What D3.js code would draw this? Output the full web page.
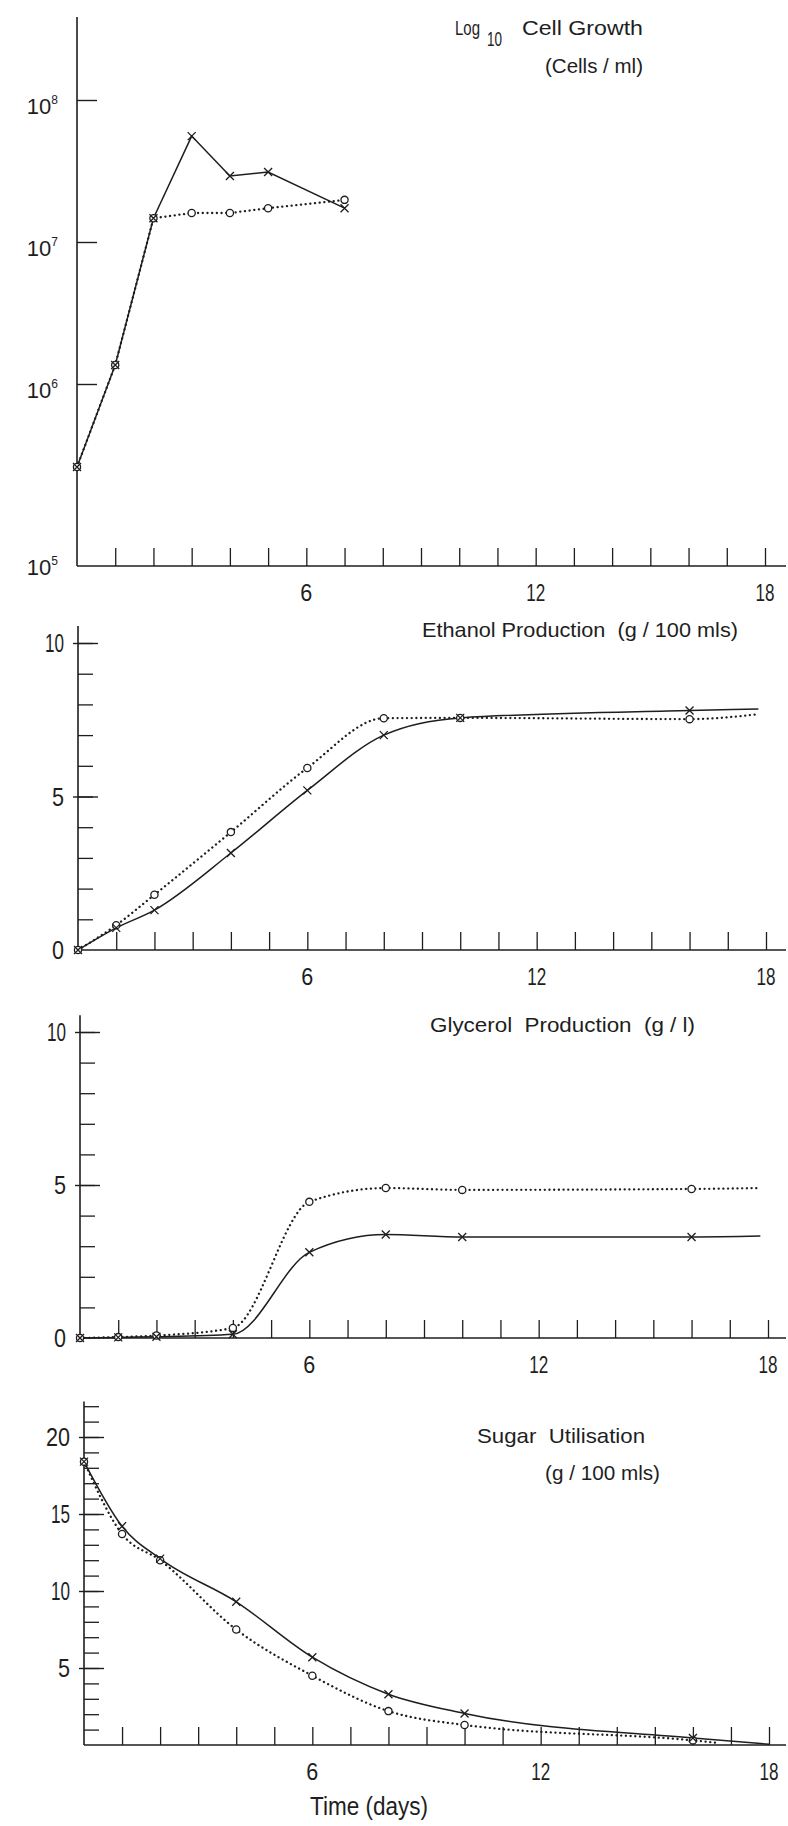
<!DOCTYPE html>
<html>
<head>
<meta charset="utf-8">
<script src="https://cdn.jsdelivr.net/npm/d3@7"></script>
<style>
  html, body { margin: 0; padding: 0; background: #fff; }
  svg { display: block; }
  text { fill: #1e1e1e; font-family: "Liberation Sans Narrow", "Liberation Sans", sans-serif; white-space: pre; }
  .title { font-family: "Liberation Sans", sans-serif; font-size: 21px; }
</style>
</head>
<body>
<svg id="chart" width="788" height="1826"></svg>
<script>
// ---------- data (time in days) ----------
const dayTicks  = d3.range(1, 19);
const dayLabels = [6, 12, 18];

// Cell growth, cells/ml (log scale)
const growthDays    = [0, 1, 2, 3, 4, 5, 7];
const growthCrosses = [3.5e5, 1.36e6, 1.47e7, 5.57e7, 2.92e7, 3.11e7, 1.73e7];
const growthCircles = [3.5e5, 1.36e6, 1.47e7, 1.60e7, 1.60e7, 1.73e7, 1.98e7];
const growthExponents = [5, 6, 7, 8];

// Ethanol, g/100 mls
const ethanolDays    = [0, 1, 2, 4, 6, 8, 10, 16];
const ethanolCrosses = [0, 0.72, 1.3, 3.16, 5.2, 7.0, 7.56, 7.8];
const ethanolCircles = [0, 0.81, 1.8, 3.84, 5.93, 7.55, 7.56, 7.52];
const ethanolTailDays = [17.8, 17.8];
const ethanolTail     = [7.85, 7.68];

// Glycerol, g/l
const glycerolDays    = [0, 1, 2, 4, 6, 8, 10, 16];
const glycerolCrosses = [0, 0.02, 0.04, 0.12, 2.8, 3.38, 3.3, 3.3];
const glycerolCircles = [0, 0.03, 0.08, 0.33, 4.45, 4.9, 4.84, 4.87];
const glycerolTailDays = [17.8, 17.8];
const glycerolTail     = [3.33, 4.9];

// Sugar, g/100 mls
const sugarDays    = [0, 1, 2, 4, 6, 8, 10, 16];
const sugarCrosses = [18.4, 14.2, 12.1, 9.3, 5.7, 3.3, 2.05, 0.45];
const sugarCircles = [18.4, 13.7, 12.0, 7.5, 4.5, 2.2, 1.3, 0.3];
const sugarTailDays = [18, 16.6];
const sugarTail     = [0.05, 0.15];

// ---------- drawing ----------
const ink = "#1e1e1e";
const svg = d3.select("#chart");
const axisEnd = 786;

function zip(days, vals, tailDay, tailVal) {
  const pts = days.map((d, i) => [d, vals[i]]);
  if (tailDay != null) pts.push([tailDay, tailVal]);
  return pts;
}

// narrow lettering for the numerals: about 12px per digit, the "1" thinner
function numeralWidth(s) {
  return String(s).split("").reduce((w, c) => w + (c === "1" ? 7 : 12), 0);
}

function title(g, text, x, y, width, anchor) {
  return g.append("text").attr("class", "title")
    .attr("x", x).attr("y", y).attr("text-anchor", anchor || "start")
    .attr("textLength", width).attr("lengthAdjust", "spacingAndGlyphs")
    .text(text);
}

function drawPanel(p) {
  const g = svg.append("g");
  const x = p.x, y = p.y;
  const ax = x(0), ay = y(p.base);

  // axis lines
  g.append("line").attr("x1", ax).attr("x2", ax).attr("y1", y(p.top)).attr("y2", ay)
    .attr("stroke", ink).attr("stroke-width", 1.6);
  g.append("line").attr("x1", ax).attr("x2", axisEnd).attr("y1", ay).attr("y2", ay)
    .attr("stroke", ink).attr("stroke-width", 1.6);

  // day ticks pointing up from the time axis
  const xt = g.append("g").attr("transform", `translate(0,${ay})`)
    .call(d3.axisBottom(x).tickValues(dayTicks).tickSize(-18).tickFormat(""));
  xt.select(".domain").remove();
  xt.selectAll("line").attr("stroke", ink).attr("stroke-width", 1.3);

  g.selectAll(".xl").data(dayLabels).join("text")
    .attr("x", d => x(d)).attr("y", ay + 35)
    .attr("text-anchor", "middle").attr("font-size", 24)
    .attr("textLength", d => numeralWidth(d)).attr("lengthAdjust", "spacingAndGlyphs")
    .text(d => d);

  // value ticks pointing right from the value axis
  if (p.minor) {
    const yt = g.append("g").attr("transform", `translate(${ax},0)`)
      .call(d3.axisLeft(y).tickValues(p.minor).tickSize(-15).tickFormat(""));
    yt.select(".domain").remove();
    yt.selectAll("line").attr("stroke", ink).attr("stroke-width", 1.3);
  }
  const ym = g.append("g").attr("transform", `translate(${ax - p.overhang},0)`)
    .call(d3.axisLeft(y).tickValues(p.major).tickSize(-(20 + p.overhang)).tickFormat(""));
  ym.select(".domain").remove();
  ym.selectAll("line").attr("stroke", ink).attr("stroke-width", 1.4);

  p.labels(g, ax);

  // traces
  const line = d3.line().x(d => x(d[0])).y(d => y(d[1])).curve(p.curve);
  const crossPts  = zip(p.days, p.crosses, p.tailDays && p.tailDays[0], p.tail && p.tail[0]);
  const circlePts = zip(p.days, p.circles, p.tailDays && p.tailDays[1], p.tail && p.tail[1]);

  g.append("path").attr("d", line(circlePts))
    .attr("fill", "none").attr("stroke", ink).attr("stroke-width", 2.3)
    .attr("stroke-linecap", "round").attr("stroke-dasharray", "0.1 4.6");
  g.append("path").attr("d", line(crossPts))
    .attr("fill", "none").attr("stroke", ink).attr("stroke-width", 1.5);

  // markers
  g.selectAll(".o").data(p.days.map((d, i) => [d, p.circles[i]])).join("circle")
    .attr("cx", d => x(d[0])).attr("cy", d => y(d[1])).attr("r", 3.6)
    .attr("fill", "#fff").attr("stroke", ink).attr("stroke-width", 1.3);
  g.selectAll(".x").data(p.days.map((d, i) => [d, p.crosses[i]])).join("path")
    .attr("transform", d => `translate(${x(d[0])},${y(d[1])})`)
    .attr("d", "M-4,-4L4,4M-4,4L4,-4")
    .attr("stroke", ink).attr("stroke-width", 1.3).attr("fill", "none");

  p.title(g);
}

function linearLabels(y, values, size) {
  return (g, ax) => {
    g.selectAll(".yl").data(values).join("text")
      .attr("x", ax - 14).attr("y", d => y(d)).attr("dy", "0.36em")
      .attr("text-anchor", "end").attr("font-size", size)
      .attr("textLength", d => numeralWidth(d)).attr("lengthAdjust", "spacingAndGlyphs")
      .text(d => d);
  };
}

// Panel 1: log10 cell growth
const growthY = d3.scaleLog().domain([1e5, 1e6, 1e7, 1e8]).range([566, 384, 242, 100]);
drawPanel({
  x: d3.scaleLinear().domain([0, 18]).range([77, 765]),
  y: growthY, base: 1e5, top: Math.pow(10, 8.585),
  minor: null, major: growthExponents.slice(1).map(e => Math.pow(10, e)), overhang: 0,
  days: growthDays, crosses: growthCrosses, circles: growthCircles,
  curve: d3.curveLinear,
  labels: (g, ax) => {
    const t = g.selectAll(".yl").data(growthExponents).join("text")
      .attr("x", ax - 19).attr("y", e => growthY(Math.pow(10, e)) + (e === 5 ? 9 : 14))
      .attr("text-anchor", "end").attr("font-size", 22);
    t.append("tspan").text("10");
    t.append("tspan").attr("font-size", 12).attr("dy", -10).text(e => e);
  },
  title: g => {
    title(g, "Log", 455, 35, 25);
    g.append("text").attr("class", "title").attr("x", 487).attr("y", 46)
      .attr("font-size", 13).attr("textLength", 15).attr("lengthAdjust", "spacingAndGlyphs").text("10");
    title(g, "Cell Growth", 522, 35, 121);
    title(g, "(Cells / ml)", 545, 73, 98);
  }
});

// Panel 2: ethanol
const ethanolY = d3.scaleLinear().domain([0, 10]).range([950, 643]);
drawPanel({
  x: d3.scaleLinear().domain([0, 18]).range([78, 766]),
  y: ethanolY, base: 0, top: 10.55,
  minor: d3.range(1, 11), major: [5, 10], overhang: 5,
  days: ethanolDays, crosses: ethanolCrosses, circles: ethanolCircles,
  tailDays: ethanolTailDays, tail: ethanolTail,
  curve: d3.curveMonotoneX,
  labels: linearLabels(ethanolY, [0, 5, 10], 26),
  title: g => title(g, "Ethanol Production  (g / 100 mls)", 422, 637, 316)
});

// Panel 3: glycerol
const glycerolY = d3.scaleLinear().domain([0, 10]).range([1338, 1032]);
drawPanel({
  x: d3.scaleLinear().domain([0, 18]).range([80, 768]),
  y: glycerolY, base: 0, top: 10.55,
  minor: d3.range(1, 11), major: [5, 10], overhang: 5,
  days: glycerolDays, crosses: glycerolCrosses, circles: glycerolCircles,
  tailDays: glycerolTailDays, tail: glycerolTail,
  curve: d3.curveMonotoneX,
  labels: linearLabels(glycerolY, [0, 5, 10], 26),
  title: g => title(g, "Glycerol  Production  (g / l)", 430, 1032, 265)
});

// Panel 4: sugar
const sugarY = d3.scaleLinear().domain([0, 20]).range([1745, 1437]);
drawPanel({
  x: d3.scaleLinear().domain([0, 18]).range([84, 769]),
  y: sugarY, base: 0, top: 22.3,
  minor: d3.range(1, 23), major: [5, 10, 15, 20], overhang: 5,
  days: sugarDays, crosses: sugarCrosses, circles: sugarCircles,
  tailDays: sugarTailDays, tail: sugarTail,
  curve: d3.curveMonotoneX,
  labels: linearLabels(sugarY, [5, 10, 15, 20], 26),
  title: g => {
    title(g, "Sugar  Utilisation", 477, 1443, 168);
    title(g, "(g / 100 mls)", 545, 1480, 115);
  }
});

svg.append("text").attr("x", 310).attr("y", 1815).attr("font-size", 26)
  .attr("textLength", 118).attr("lengthAdjust", "spacingAndGlyphs").text("Time (days)");
</script>
</body>
</html>
